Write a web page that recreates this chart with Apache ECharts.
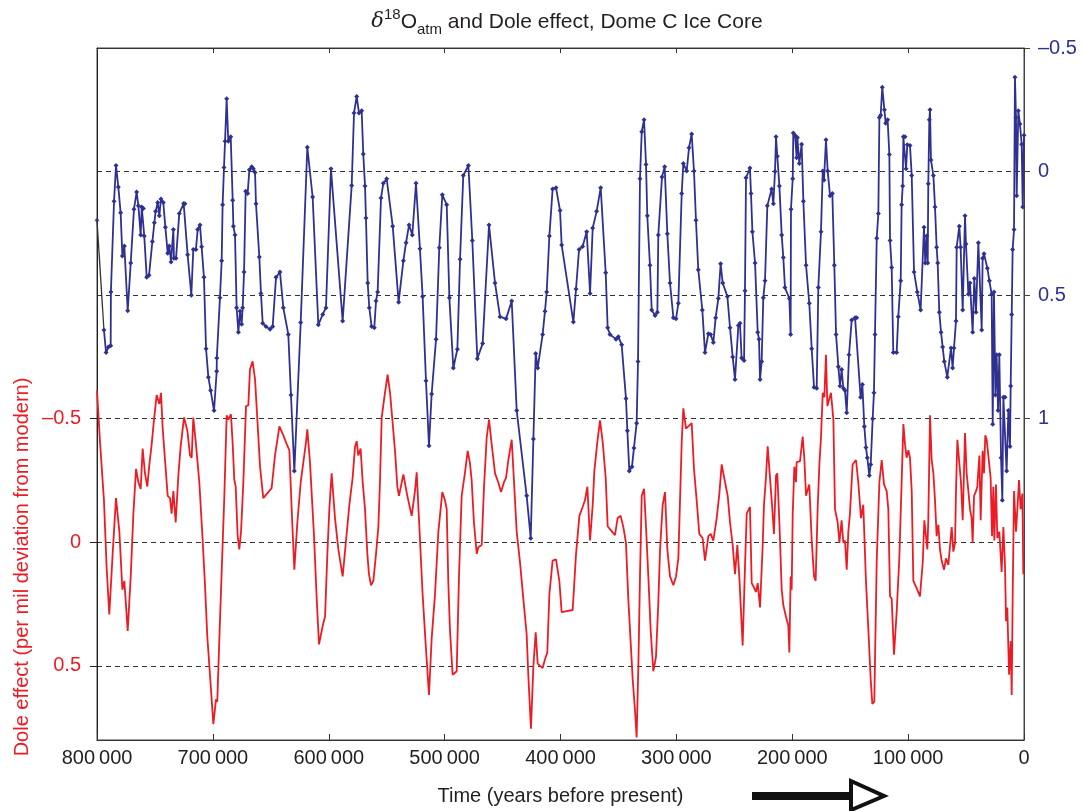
<!DOCTYPE html>
<html>
<head>
<meta charset="utf-8">
<script src="https://cdn.jsdelivr.net/npm/echarts@6/dist/echarts.min.js"></script>
<style>html,body{margin:0;padding:0;background:#fff;}#c{width:1082px;height:811px;}</style>
</head>
<body>
<div id="c"></div>
<script>
// Ages in kyr before present; values in per mil
const xTickValues = [800, 700, 600, 500, 400, 300, 200, 100, 0];
const xTickLabels = ['800\u2009000','700\u2009000','600\u2009000','500\u2009000','400\u2009000','300\u2009000','200\u2009000','100\u2009000','0'];
const leftTickValues = [-0.5, 0, 0.5];
const rightTickValues = [-0.5, 0, 0.5, 1];

// delta18O atm (right axis)
const d18O = [
[800.0,0.197],[794.0,0.641],[792.2,0.732],[790.2,0.710],[788.2,0.705],[788.0,0.487],[785.3,0.120],[783.6,-0.025],[781.6,0.062],[779.6,0.167],
[778.1,0.342],[776.4,0.301],[773.5,0.563],[770.9,0.370],[768.1,0.152],[765.8,0.083],[764.3,0.138],[762.3,0.257],[761.4,0.143],[760.0,0.149],
[759.2,0.261],[757.1,0.428],[755.1,0.420],[752.2,0.283],[750.5,0.207],[749.4,0.161],[747.6,0.125],[746.2,0.179],[744.8,0.111],[742.8,0.125],
[741.0,0.225],[739.0,0.330],[737.6,0.301],[736.1,0.366],[734.1,0.234],[733.6,0.351],[731.8,0.351],[729.0,0.170],[725.2,0.129],[724.1,0.130],
[721.8,0.337],[718.6,0.500],[716.9,0.315],[714.6,0.315],[713.1,0.234],[711.1,0.216],[709.7,0.304],[707.7,0.428],[705.9,0.717],[703.9,0.832],
[701.9,0.886],[699.0,0.967],[696.7,0.808],[696.6,0.754],[693.9,0.511],[692.4,0.361],[691.6,0.134],[690.4,-0.016],[689.5,-0.123],[688.1,-0.295],
[686.7,-0.123],[684.6,-0.141],[682.9,0.116],[682.3,0.221],[680.9,0.257],[679.5,0.551],[678.0,0.650],[676.6,0.565],[675.2,0.618],[674.3,0.551],
[673.1,0.406],[671.7,0.080],[670.0,0.089],[668.5,-0.007],
[666.5,-0.020],[665.1,-0.011],[663.6,0.004],[662.8,0.130],[659.9,0.346],[658.5,0.493],[657.0,0.614],[654.2,0.627],[650.7,0.638],[648.4,0.627],
[645.5,0.428],[642.1,0.406],[639.2,0.551],[634.9,0.659],[632.6,0.904],[629.7,1.212],[624.2,0.611],[618.5,-0.098],[613.9,0.103],[609.0,0.620],
[605.2,0.578],[602.4,0.551],[598.1,-0.011],[588.0,0.605],[580.2,0.056],[578.2,-0.237],[575.9,-0.304],[573.9,-0.237],[571.6,-0.246],[570.2,-0.071],
[568.7,0.058],[567.9,0.188],[566.4,0.451],[565.0,0.551],[563.0,0.627],[560.7,0.632],[559.2,0.524],[557.8,0.487],[554.9,0.107],[552.9,0.047],
[550.0,0.029],[544.8,0.221],[539.7,0.529],
[535.6,0.361],[533.3,0.288],[530.7,0.216],[527.9,0.257],[524.7,0.047],[521.3,0.312],[519.0,0.505],[516.1,0.846],[513.5,1.109],[511.2,0.900],
[507.4,0.678],[504.6,0.308],[502.0,0.094],[498.2,0.134],[495.9,0.511],[492.5,0.795],[489.0,0.719],[486.7,0.355],[483.9,0.016],[479.5,-0.025],
[476.1,0.279],[471.8,0.757],[467.2,0.696],[461.7,0.216],[456.5,0.451],[452.2,0.587],[447.0,0.596],[442.1,0.524],[437.8,0.967],[429.2,1.312],
[425.7,1.484],[423.4,1.082],[421.4,0.736],[419.7,0.795],[415.4,0.659],[413.4,0.565],[411.9,0.487],[409.6,0.261],
[406.8,0.071],[403.9,0.065],[400.4,0.158],[399.0,0.297],[388.9,0.609],[386.6,0.475],[384.0,0.315],[380.9,0.303],[377.4,0.243],[374.5,0.493],
[372.2,0.228],[368.8,0.161],[365.3,0.065],[361.0,0.409],[359.3,0.632],[357.3,0.659],[352.1,0.678],[350.1,0.668],[347.2,0.701],[343.5,0.918],
[342.3,1.049],[340.6,1.212],[338.3,1.194],[336.6,1.118],[334.3,1.018],[333.1,0.768],[331.4,0.029],[329.9,-0.161],[327.9,-0.210],[326.2,-0.029],
[325.1,0.179],[322.8,0.379],[321.3,0.560],[318.4,0.582],[316.4,0.569],[315.6,0.257],[312.4,0.022],[310.1,-0.020],[307.8,0.252],[305.5,0.451],
[302.6,0.591],[300.3,0.596],[298.3,0.533],[295.4,0.089],[294.0,-0.033],[291.1,-0.002],[289.1,-0.096],[286.8,-0.152],[284.8,-0.002],[283.1,0.197],
[281.1,0.397],
[277.6,0.560],[275.3,0.732],[272.4,0.656],[270.4,0.659],[268.1,0.692],[266.1,0.591],[263.8,0.514],[261.8,0.373],[260.0,0.451],[256.0,0.505],
[253.7,0.632],[251.4,0.750],[249.4,0.841],[246.5,0.623],[245.1,0.614],[243.7,0.754],[241.6,0.764],[240.8,0.482],[239.9,0.025],[236.5,-0.014],
[235.6,0.089],[234.4,0.243],[232.1,0.370],[229.8,0.650],[228.7,0.678],[227.8,0.841],[226.4,0.768],[225.0,0.511],[223.5,0.442],[221.5,0.138],
[217.8,0.071],[216.3,0.130],[214.9,0.000],[214.0,-0.141],[212.9,-0.062],[211.1,0.058],[209.1,0.257],[207.7,0.348],[206.3,0.469],[202.5,0.514],
[201.4,0.659],[201.1,0.152],[199.6,0.029],[199.1,-0.156],[197.6,-0.147],[196.2,-0.056],[195.6,-0.138],[193.9,-0.033],[191.9,-0.111],[190.4,0.120],
[188.1,0.379],[185.3,0.533],[183.2,0.717],[181.2,0.873],[178.9,0.877],[177.5,0.469],[175.2,0.243],[173.7,-0.002],[172.6,0.034],[170.9,-0.129],
[169.4,-0.002],[167.4,0.098],[165.4,0.089],[163.7,0.379],[162.2,0.659],[160.2,0.790],[158.8,0.868],[157.4,0.801],[155.9,0.877],[154.5,0.886],
[153.0,0.976],[151.0,0.741],
[148.7,0.601],[145.8,0.591],[144.4,0.591],[141.0,0.913],[139.5,0.862],[137.8,1.031],[136.4,1.116],[135.2,1.158],[133.5,1.230],[132.3,1.185],
[130.6,1.000],[129.5,0.895],[128.6,0.659],[127.1,0.270],[125.7,0.170],[124.8,-0.219],[123.7,-0.228],[122.3,-0.341],[120.5,-0.250],[119.4,-0.196],
[117.7,-0.210],[116.2,-0.069],[115.6,0.279],[114.2,0.388],[112.8,0.732],[109.9,0.732],[108.5,0.587],[106.4,0.442],[105.6,0.134],[104.7,0.058],
[104.1,-0.141],[102.7,-0.141],[101.8,-0.011],[100.7,-0.109],[98.4,-0.105],[96.9,0.016],[94.9,0.406],[92.1,0.487],[89.2,0.560],[86.3,0.225],
[85.2,0.370],[84.0,0.261],[83.1,0.370],[82.6,0.049],[81.7,-0.210],[81.1,-0.250],[80.3,-0.047],[78.2,0.016],[76.8,0.143],[75.4,0.306],
[74.5,0.370],[73.1,0.569],[71.6,0.650],[70.2,0.710],[68.8,0.768],[66.2,0.832],[63.0,0.714],[61.6,0.795],[60.4,0.714],[58.7,0.605],
[58.1,0.306],[55.8,0.221],[54.7,0.306],[52.9,0.560],[50.9,0.179],[50.1,0.293],[48.0,0.496],[46.6,0.451],[44.3,0.650],[42.9,0.433],
[41.4,0.569],[39.4,0.288],[36.5,0.641],[35.7,0.351],[34.5,0.333],[31.6,0.391],[29.9,0.442],[27.9,0.496],[27.0,1.022],[25.9,0.487],
[24.7,0.904],[23.6,0.741],[22.4,0.967],[21.3,0.741],[19.8,1.158],[18.7,1.330],[17.8,0.913],[16.4,0.913],[15.0,1.212],[13.5,0.967],
[12.1,1.112],[11.5,0.868],[10.6,0.578],[9.8,0.315],[8.6,0.234],[7.8,-0.382],[6.9,-0.219],[6.3,0.098],[4.9,-0.246],[3.5,-0.192],
[2.0,-0.111],[1.1,0.143],[0.0,-0.147]
];

// Dole effect (left axis)
const dole = [
[800.0,-0.614],[797.4,-0.406],[794.0,-0.170],[791.7,0.101],[789.4,0.292],[786.5,0.047],[783.6,-0.179],[780.7,-0.043],[778.1,0.192],[776.4,0.156],
[773.5,0.359],[770.9,0.138],[768.6,-0.116],[766.3,-0.297],[764.3,-0.243],[762.3,-0.216],[760.6,-0.379],[758.6,-0.279],[756.6,-0.225],[754.8,-0.315],
[752.8,-0.397],[750.8,-0.496],[748.5,-0.596],[746.2,-0.560],[744.8,-0.605],[743.3,-0.460],[741.3,-0.333],[739.0,-0.188],[737.0,-0.179],[735.6,-0.116],
[734.1,-0.207],[732.1,-0.080],[729.8,-0.270],[727.8,-0.388],[724.9,-0.505],[722.0,-0.451],[719.7,-0.351],[718.3,-0.342],[716.9,-0.505],[714.6,-0.397],
[711.7,-0.243],[708.8,-0.007],[706.8,0.174],[704.8,0.382],[702.5,0.536],[699.6,0.736],[697.3,0.636],[696.2,0.645],[693.9,0.319],[691.6,0.011],
[690.1,-0.188],[688.1,-0.514],[686.7,-0.496],[684.4,-0.518],[682.9,-0.397],[681.5,-0.252],[680.3,-0.225],[678.6,-0.025],[677.2,0.029],[675.7,-0.043],
[673.7,-0.243],[671.4,-0.551],[669.4,-0.554],
[668.0,-0.699],[665.7,-0.732],[663.6,-0.659],[661.6,-0.496],[659.3,-0.306],[656.5,-0.179],[649.3,-0.219],[646.4,-0.351],[642.6,-0.469],[639.2,-0.433],
[636.3,-0.397],[634.0,-0.373],[632.0,-0.134],[629.7,0.111],[627.1,-0.080],[624.2,-0.243],[621.9,-0.324],[619.6,-0.406],[618.5,-0.457],[616.2,-0.324],
[612.7,-0.025],[610.4,0.228],[608.4,0.413],[605.2,0.337],[603.2,0.301],[601.2,0.047],[599.5,-0.134],[597.5,-0.279],[594.6,-0.098],[591.7,0.029],
[588.0,0.138],[585.1,-0.007],[582.2,-0.152],[579.4,-0.261],[577.3,-0.388],[575.9,-0.409],[574.5,-0.351],[572.5,-0.379],[570.7,-0.243],[568.7,-0.134],
[566.7,0.047],[565.3,0.129],[563.5,0.174],[561.5,0.156],[559.2,0.047],[557.2,-0.062],[555.8,-0.243],[554.3,-0.505],[551.5,-0.605],[549.2,-0.678],
[547.1,-0.605],[545.1,-0.496],[542.8,-0.370],[540.8,-0.225],
[539.4,-0.188],[535.6,-0.275],[532.2,-0.188],[528.4,-0.107],[525.6,-0.207],[524.1,-0.283],[521.8,-0.062],[519.0,0.210],[516.4,0.409],[513.5,0.618],
[511.2,0.391],[508.3,0.210],[505.4,-0.043],[502.0,-0.203],[499.7,-0.170],[498.2,-0.134],[496.8,0.165],[495.4,0.355],[493.1,0.536],[489.6,0.522],
[487.6,0.138],[485.3,-0.188],[482.4,-0.283],[480.1,-0.370],[478.1,-0.319],[476.7,-0.252],[474.7,-0.080],[472.3,0.047],[470.9,0.020],[468.0,0.011],
[466.0,-0.225],[463.7,-0.424],[461.7,-0.496],[459.4,-0.397],[456.5,-0.279],[453.7,-0.243],[451.3,-0.203],[448.8,-0.243],[447.0,-0.261],[445.0,-0.333],
[442.1,-0.415],[440.1,-0.243],[437.8,-0.043],[434.9,0.083],[432.1,0.228],[429.2,0.373],[427.8,0.536],[425.5,0.754],[423.4,0.500],[421.4,0.364],
[419.7,0.491],[417.7,0.500],[415.4,0.509],[413.4,0.473],[411.4,0.446],[409.6,0.210],
[406.8,0.074],[403.9,0.069],[401.0,0.156],[399.0,0.283],[389.5,0.274],[386.6,0.047],[383.7,-0.107],[380.9,-0.143],[378.9,-0.170],[376.8,-0.225],
[374.5,-0.007],[372.2,-0.152],[370.8,-0.288],[368.2,-0.406],[365.9,-0.493],[363.6,-0.406],[361.0,-0.261],[359.3,-0.065],[357.3,-0.053],[353.0,-0.029],
[350.7,-0.098],[348.1,-0.107],[345.8,-0.062],[343.5,0.002],[341.5,0.228],[339.4,0.409],[337.7,0.554],[335.7,0.681],[334.3,0.790],[332.8,0.500],
[331.4,0.138],[329.9,-0.188],[327.9,-0.216],[326.2,-0.062],[324.2,0.138],[322.2,0.355],[319.9,0.522],[317.6,0.464],[315.6,0.246],[314.1,0.029],
[311.8,-0.152],[309.8,-0.203],[307.8,0.029],[305.5,0.138],[302.6,0.174],[300.3,0.138],[298.3,0.065],[295.4,-0.406],[294.0,-0.542],[291.7,-0.460],
[289.7,-0.469],[286.8,-0.482],[284.8,-0.297],[282.5,-0.170],[280.2,-0.034],
[277.3,-0.016],[275.3,0.074],[272.4,-0.025],[270.4,-0.034],[268.1,-0.007],[265.2,-0.098],[262.9,-0.197],[260.9,-0.315],[258.0,-0.243],[255.7,-0.188],
[253.7,-0.080],[251.4,0.011],[249.4,0.129],[247.4,0.011],[245.7,0.138],[242.8,0.418],[240.8,0.101],[239.3,-0.116],[236.5,-0.143],[235.0,0.165],
[233.0,0.183],[231.3,0.201],[229.8,0.165],[227.8,0.264],[225.5,0.011],[224.4,-0.152],[222.7,-0.261],[221.2,-0.388],[219.2,-0.261],[217.2,-0.134],
[215.8,-0.034],[214.0,-0.270],[212.9,-0.279],[211.1,-0.080],[209.1,0.192],[207.7,0.255],[205.4,0.301],[203.4,0.337],[202.5,0.446],[201.4,0.138],
[200.5,0.192],[199.6,-0.116],[198.2,-0.306],[196.8,-0.243],[196.2,-0.324],[193.3,-0.328],[191.0,-0.428],[189.6,-0.342],[188.1,-0.188],[187.0,-0.207],
[185.3,-0.234],[183.2,-0.007],[181.2,0.138],[179.8,0.156],[178.1,-0.134],[176.6,-0.315],[175.2,-0.424],[173.7,-0.605],[172.3,-0.587],[170.9,-0.759],
[169.7,-0.551],[168.0,-0.551],[166.6,-0.605],[164.5,-0.496],[163.1,-0.134],[160.8,-0.080],[159.3,0.002],[157.4,-0.089],[155.9,0.002],[154.5,-0.007],
[153.0,0.111],[151.6,-0.043],
[150.2,-0.116],[147.9,-0.315],[145.0,-0.333],[143.0,-0.243],[140.7,-0.098],[138.7,-0.152],[136.4,0.156],[134.3,0.355],[132.3,0.554],[130.9,0.654],
[129.2,0.645],[127.1,0.074],[124.8,-0.243],[122.8,-0.333],[120.8,-0.234],[118.5,-0.207],[117.1,-0.134],[115.6,0.219],[114.2,0.228],[112.2,0.455],
[109.9,0.283],[107.6,0.065],[105.6,-0.243],[104.1,-0.478],[102.7,-0.397],[101.3,-0.342],[99.8,-0.373],[98.4,-0.342],[96.9,-0.207],[95.5,0.156],
[92.1,0.192],[89.8,0.219],[87.4,0.083],[86.0,-0.089],[84.6,-0.025],[83.4,0.029],[82.6,-0.089],[81.1,-0.514],[79.7,-0.333],[78.2,-0.279],
[76.8,-0.170],[75.4,-0.025],[73.9,-0.071],[72.5,0.029],[71.1,0.074],[69.0,0.111],[67.3,0.065],[65.3,0.092],[62.4,-0.062],[61.0,0.038],
[59.5,0.002],[58.7,-0.207],[57.5,-0.415],[55.8,-0.409],[54.4,-0.243],[52.9,-0.089],[50.9,-0.442],[49.5,-0.279],[48.0,-0.207],[46.6,-0.134],
[45.2,-0.098],[44.3,0.002],[43.1,-0.188],[41.4,-0.207],[40.3,-0.225],[38.5,-0.351],[37.4,-0.089],[35.7,-0.370],[34.5,-0.279],[33.4,-0.433],
[32.2,-0.415],[30.5,-0.415],[28.8,-0.261],[27.6,-0.025],[26.5,-0.225],[25.6,-0.007],[24.2,-0.234],[23.0,-0.016],[21.3,-0.043],[19.3,0.120],
[17.8,-0.062],[16.4,0.092],[15.5,0.319],[14.4,0.264],[12.9,0.536],[11.5,0.400],[10.6,0.618],[9.8,0.228],[8.6,-0.207],[6.9,-0.043],
[5.5,-0.152],[4.3,-0.252],[2.9,-0.134],[1.4,-0.197],[0.6,0.129]
];

const FONT = 'Liberation Sans, Arial, Helvetica, sans-serif';
const BLUE = '#2e3192';
const RED = '#ed1c24';
const INK = '#231f20';
const fmtSigned = v => (v < 0 ? '\u2013' + String(-v) : String(v));

const chart = echarts.init(document.getElementById('c'), null, {renderer: 'canvas'});
chart.setOption({
  animation: false,
  backgroundColor: '#fff',
  textStyle: {fontFamily: FONT},
  title: {
    left: 562, top: 2, textAlign: 'center',
    text: '{d|\u03b4}{sup|18}{n|O}{sub|atm}{n| and Dole effect, Dome C Ice Core}',
    textStyle: {
      fontFamily: FONT, color: INK, fontWeight: 'normal',
      rich: {
        d: {fontSize: 21, fontStyle: 'italic', fontWeight: 'normal', lineHeight: 30, fontFamily: 'DejaVu Serif, serif', color: INK},
        n: {fontSize: 21, fontWeight: 'normal', lineHeight: 30, fontFamily: FONT, color: INK},
        sup: {fontSize: 15, fontWeight: 'normal', lineHeight: 15, verticalAlign: 'top', fontFamily: FONT, color: INK},
        sub: {fontSize: 15, fontWeight: 'normal', lineHeight: 15, verticalAlign: 'bottom', fontFamily: FONT, color: INK}
      }
    }
  },
  grid: {left: 97, right: 58, top: 48, bottom: 71, show: true, borderColor: '#444', borderWidth: 1},
  xAxis: [
    {
      type: 'value', position: 'bottom', min: 0, max: 800, interval: 100, inverse: true,
      axisLine: {show: true, onZero: false, lineStyle: {color: '#333', width: 1}},
      axisTick: {show: true, inside: true, length: 6, lineStyle: {color: '#333'}},
      axisLabel: {
        margin: 8, fontSize: 20, color: INK, fontFamily: FONT,
        formatter: v => { const i = xTickValues.indexOf(v); return i >= 0 ? xTickLabels[i] : ''; }
      },
      splitLine: {show: false},
      name: 'Time (years before present)', nameLocation: 'middle', nameGap: 46,
      nameTextStyle: {fontSize: 20, color: INK, fontFamily: FONT}
    },
    {
      type: 'value', position: 'top', min: 0, max: 800, interval: 100, inverse: true,
      axisLine: {show: true, onZero: false, lineStyle: {color: '#333', width: 1}},
      axisTick: {show: true, inside: true, length: 5, lineStyle: {color: '#333'}},
      axisLabel: {show: false}, splitLine: {show: false}
    }
  ],
  yAxis: [
    {
      type: 'value', position: 'left', min: -2, max: 0.8, interval: 0.5, inverse: true,
      axisLine: {show: true, onZero: false, lineStyle: {color: '#222', width: 1}},
      axisTick: {show: true, inside: false, length: 7, customValues: leftTickValues, lineStyle: {color: '#222'}},
      axisLabel: {show: true, customValues: leftTickValues, margin: 16, fontSize: 20, color: RED, fontFamily: FONT, formatter: fmtSigned},
      splitLine: {show: false}
    },
    {
      type: 'value', position: 'right', min: -0.5, max: 2.3, interval: 0.5, inverse: true,
      axisLine: {show: true, onZero: false, lineStyle: {color: '#444', width: 1}},
      axisTick: {show: true, inside: false, length: 6, customValues: rightTickValues, lineStyle: {color: '#444'}},
      axisLabel: {show: true, customValues: rightTickValues, margin: 14, fontSize: 20, color: BLUE, fontFamily: FONT, formatter: fmtSigned},
      splitLine: {show: false}
    },
    {
      type: 'value', position: 'left', min: -2, max: 0.8, interval: 0.5, inverse: true,
      axisLine: {show: false, onZero: false}, axisTick: {show: false}, axisLabel: {show: false},
      splitLine: {show: true, lineStyle: {color: '#333', width: 1, type: [5, 4]}}
    }
  ],
  graphic: [
    {
      type: 'text', x: 22, y: 567, rotation: Math.PI / 2,
      style: {text: 'Dole effect (per mil deviation from modern)', fill: RED, font: '20px ' + FONT, textAlign: 'center', textVerticalAlign: 'middle'}
    },
    {type: 'rect', shape: {x: 752, y: 792, width: 100, height: 8}, style: {fill: '#111'}},
    {type: 'polygon', shape: {points: [[851, 781], [884, 796], [851, 810]]}, style: {fill: '#fff', stroke: '#111', lineWidth: 4, lineJoin: 'miter'}}
  ],
  series: [
    {
      name: 'Dole effect', type: 'line', xAxisIndex: 0, yAxisIndex: 0, data: dole,
      showSymbol: false, symbol: 'none', lineStyle: {color: RED, width: 1.8}, itemStyle: {color: RED}, z: 3
    },
    {
      name: 'lead', type: 'line', xAxisIndex: 0, yAxisIndex: 1, data: d18O.slice(0, 2),
      symbol: 'none', lineStyle: {color: '#333', width: 1.3}, z: 4
    },
    {
      name: 'd18O atm', type: 'line', xAxisIndex: 0, yAxisIndex: 1, data: d18O.slice(1),
      symbol: 'diamond', symbolSize: 5, showAllSymbol: true,
      lineStyle: {color: BLUE, width: 1.8}, itemStyle: {color: BLUE}, z: 5
    },
    {
      name: 'first', type: 'scatter', xAxisIndex: 0, yAxisIndex: 1, data: d18O.slice(0, 1),
      symbol: 'diamond', symbolSize: 5, itemStyle: {color: BLUE}, z: 5
    }
  ]
});
</script>
</body>
</html>
